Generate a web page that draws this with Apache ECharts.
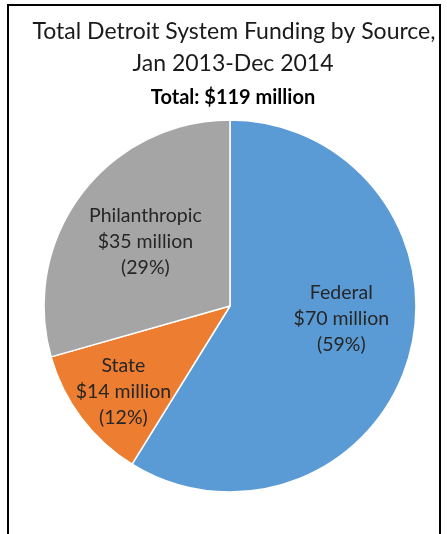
<!DOCTYPE html>
<html>
<head>
<meta charset="utf-8">
<script src="https://cdn.jsdelivr.net/npm/echarts@6/dist/echarts.min.js"></script>
<style>
html,body{margin:0;padding:0;background:#fff;}
#c{width:447px;height:534px;}
</style>
</head>
<body>
<div id="c"></div>
<script>
const categories = ['Federal', 'State', 'Philanthropic'];
const valuesMillion = [70, 14, 35];
const percentLabels = ['59%', '12%', '29%'];
const titleLines = ['Total Detroit System Funding by Source,', 'Jan 2013-Dec 2014'];
const subtitleText = 'Total: $119 million';

const colors = ['#5B9BD5', '#ED7D31', '#A5A5A5'];
const labelOffsets = [[19, -14], [-30, 28], [-8, -6]];

const chart = echarts.init(document.getElementById('c'), null, {renderer: 'canvas'});
const fontFam = 'Lato, "Open Sans", sans-serif';

const data = categories.map((name, i) => ({
  name: name,
  value: valuesMillion[i],
  itemStyle: {color: colors[i]},
  label: {offset: labelOffsets[i]}
}));

chart.setOption({
  animation: false,
  title: [
    {text: titleLines[0], left: 229, top: 15, textAlign: 'center',
     textStyle: {fontFamily: fontFam, fontSize: 23, fontWeight: 'normal', color: '#1a1a1a'}},
    {text: titleLines[1], left: 228, top: 47, textAlign: 'center',
     textStyle: {fontFamily: fontFam, fontSize: 23, fontWeight: 'normal', color: '#1a1a1a'}},
    {text: subtitleText, left: 228, top: 83, textAlign: 'center',
     textStyle: {fontFamily: fontFam, fontSize: 20, fontWeight: 'bold', color: '#000'}}
  ],
  graphic: [{
    type: 'polyline',
    shape: {points: [[8, 540], [8, 5], [440, 5], [440, 540]]},
    style: {stroke: '#000', lineWidth: 2, fill: null}
  }],
  series: [{
    type: 'pie',
    center: [230, 306],
    radius: 186,
    startAngle: 90,
    clockwise: true,
    avoidLabelOverlap: false,
    itemStyle: {borderColor: '#fff', borderWidth: 1.5},
    label: {
      show: true,
      position: 'inside',
      fontFamily: fontFam,
      fontSize: 19.5,
      lineHeight: 26,
      color: '#262626',
      align: 'center',
      formatter: function (p) {
        return p.name + '\n$' + p.value + ' million\n(' + percentLabels[p.dataIndex] + ')';
      }
    },
    labelLine: {show: false},
    emphasis: {disabled: true},
    data: data
  }]
});
</script>
</body>
</html>
